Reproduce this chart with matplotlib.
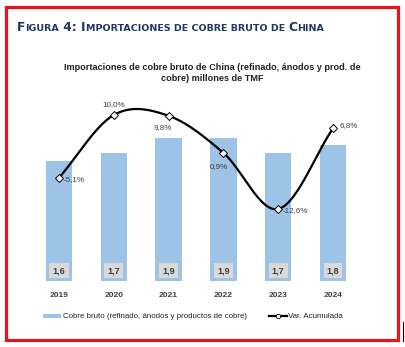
import matplotlib
matplotlib.use("Agg")
import matplotlib.pyplot as plt
import numpy as np
from matplotlib.lines import Line2D
from matplotlib.patches import Patch, Rectangle

# Data
years = ['2019', '2020', '2021', '2022', '2023', '2024']
imports_mt = [1.6, 1.7, 1.9, 1.9, 1.7, 1.8]
var_acum = [-5.1, 10.0, 9.8, 0.9, -12.6, 6.8]
var_labels = ['-5,1%', '10,0%', '9,8%', '0,9%', '-12,6%', '6,8%']

plt.rcParams['font.family'] = ['Liberation Sans', 'DejaVu Sans']

W, H = 406, 347
fig = plt.figure(figsize=(W / 100, H / 100), dpi=100)
fig.patch.set_facecolor('white')


def fx(px):
    return px / W


def fy(py):
    return 1 - py / H


# red frame
fig.patches.append(Rectangle((fx(6), fy(340)), fx(392), 333 / H, transform=fig.transFigure,
                             fill=False, edgecolor='#E8141B', linewidth=2.3))
fig.add_artist(Line2D([fx(403), fx(403)], [fy(322), fy(341)], color='black', lw=0.8))

# small-caps heading
navy = '#1F3864'
title_parts = [('F', 8.8), ('IGURA', 6.8), (' 4: I', 8.8), ('MPORTACIONES DE COBRE BRUTO DE ', 6.8),
               ('C', 8.8), ('HINA', 6.8)]
renderer = fig.canvas.get_renderer()
x0 = fx(17)
for txt, size in title_parts:
    t = fig.text(x0, fy(31), txt, fontsize=size, fontweight='bold', color=navy,
                 family='DejaVu Sans', va='baseline', ha='left')
    bb = t.get_window_extent(renderer)
    x0 += bb.width / W

# chart title
fig.text(fx(212), fy(63), 'Importaciones de cobre bruto de China (refinado, ánodos y prod. de\ncobre) millones de TMF',
         ha='center', va='top', fontsize=6.6, fontweight='bold', color='#222222', linespacing=1.25)

# bars
ax = fig.add_axes([fx(31.6), fy(281), fx(328.8), 181 / H])
x = np.arange(len(years))
ax.bar(x, imports_mt, width=0.48, color='#9DC3E6', zorder=1)
ax.set_xlim(-0.5, 5.5)
ax.set_ylim(0, 181 / 75.3)
for xi, v in zip(x, imports_mt):
    ax.text(xi, 0.135, f'{v:.1f}'.replace('.', ','), ha='center', va='center', fontsize=6.5,
            fontweight='bold', color='#404040',
            bbox=dict(boxstyle='square,pad=0.35', facecolor='#D9D9D9', edgecolor='none'))
ax.set_xticks(x, years)
ax.tick_params(axis='x', length=0, pad=8, labelsize=6, colors='#404040')
for lbl in ax.get_xticklabels():
    lbl.set_fontweight('bold')
ax.set_yticks([])
for s in ax.spines.values():
    s.set_visible(False)

# smoothed cumulative variation line
ax2 = ax.twinx()
ax2.set_ylim(-29.9, 13.6)
ax2.set_yticks([])
for s in ax2.spines.values():
    s.set_visible(False)

px = np.concatenate([[2 * x[0] - x[1]], x, [2 * x[-1] - x[-2]]]).astype(float)
vy = np.array(var_acum)
py = np.concatenate([[2 * vy[0] - vy[1]], vy, [2 * vy[-1] - vy[-2]]])
cx, cy = [], []
t = np.linspace(0, 1, 30)
for i in range(1, len(px) - 2):
    for arr, out in ((px, cx), (py, cy)):
        p0, p1, p2, p3 = arr[i - 1], arr[i], arr[i + 1], arr[i + 2]
        out.extend(0.5 * (2 * p1 + (-p0 + p2) * t + (2 * p0 - 5 * p1 + 4 * p2 - p3) * t ** 2
                          + (-p0 + 3 * p1 - 3 * p2 + p3) * t ** 3))
ax2.plot(cx, cy, color='black', lw=1.6, zorder=3)
ax2.plot(x, var_acum, linestyle='none', marker='D', markersize=4.2, markerfacecolor='white',
         markeredgecolor='black', markeredgewidth=0.7, zorder=4)

offsets = [(3, -1, 'left', 'center'), (0, 5, 'center', 'bottom'), (-4, -6, 'center', 'top'),
           (-3, -7, 'center', 'top'), (3, -1, 'left', 'center'), (5, 2, 'left', 'center')]
for xi, v, lab, (dx, dy, ha, va) in zip(x, var_acum, var_labels, offsets):
    ax2.annotate(lab, (xi, v), xytext=(dx, dy), textcoords='offset points', ha=ha, va=va,
                 fontsize=5.8, color='#404040')

# legend
handles = [Patch(facecolor='#9DC3E6', edgecolor='none'),
           Line2D([], [], color='black', lw=1.6, marker='o', markersize=3.2,
                  markerfacecolor='white', markeredgecolor='black', markeredgewidth=0.6)]
fig.legend(handles, ['Cobre bruto (refinado, ánodos y productos de cobre)', 'Var. Acumulada'],
           loc='center', bbox_to_anchor=(fx(193), fy(317)), ncol=2, frameon=False,
           fontsize=5.7, handlelength=2.3, handleheight=0.45, handletextpad=0.15, columnspacing=2.8,
           labelcolor='#222222')

fig.savefig('out.png', dpi=100, facecolor='white')
